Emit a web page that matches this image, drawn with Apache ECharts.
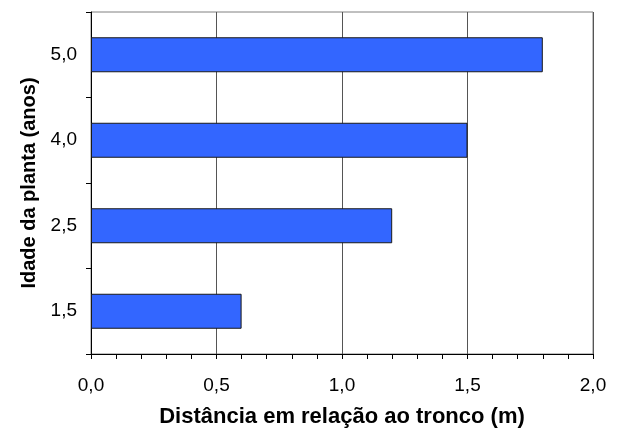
<!DOCTYPE html>
<html><head><meta charset="utf-8">
<script src="https://cdn.jsdelivr.net/npm/echarts@6/dist/echarts.min.js"></script>
<style>html,body{margin:0;padding:0;background:#fff}#c{width:619px;height:428px}</style>
</head><body><div id="c"></div>
<script>
const categories = ['1,5', '2,5', '4,0', '5,0'];
const distances = [0.6, 1.2, 1.5, 1.8];
const xTitle = 'Distância em relação ao tronco (m)';
const yTitle = 'Idade da planta (anos)';

const chart = echarts.init(document.getElementById('c'), null, {renderer: 'canvas'});
const font = 'Arial, "Liberation Sans", sans-serif';
chart.setOption({
  animation: false,
  backgroundColor: '#fff',
  grid: {left: 91, right: 26, top: 12, bottom: 74, show: true, borderColor: '#808080', borderWidth: 1,
         containLabel: false, outerBoundsMode: 'none'},
  xAxis: {
    type: 'value', min: 0, max: 2, interval: 0.5,
    name: xTitle, nameLocation: 'middle', nameGap: 52,
    nameTextStyle: {fontFamily: font, fontSize: 22, fontWeight: 'bold', color: '#000'},
    axisLine: {show: true, lineStyle: {color: '#000', width: 1}},
    axisTick: {show: true, inside: false, length: 5, lineStyle: {color: '#000'}},
    minorTick: {show: true, splitNumber: 5, length: 5, lineStyle: {color: '#000'}},
    splitLine: {show: true, lineStyle: {color: '#555', width: 1}},
    axisLabel: {fontFamily: font, fontSize: 19, color: '#000', margin: 22,
      formatter: v => v.toFixed(1).replace('.', ',')}
  },
  yAxis: {
    type: 'category', data: categories,
    name: yTitle, nameLocation: 'middle', nameGap: 48,
    nameTextStyle: {fontFamily: font, fontSize: 20, fontWeight: 'bold', color: '#000'},
    axisLine: {show: true, lineStyle: {color: '#000', width: 1}},
    axisTick: {show: true, inside: false, length: 5, alignWithLabel: false, lineStyle: {color: '#000'}},
    splitLine: {show: false},
    axisLabel: {fontFamily: font, fontSize: 19, color: '#000', margin: 14}
  },
  series: [{
    type: 'bar', data: distances, barWidth: 35,
    itemStyle: {color: '#3366FF', borderColor: '#1a1a1a', borderWidth: 1}
  }]
});
</script></body></html>
